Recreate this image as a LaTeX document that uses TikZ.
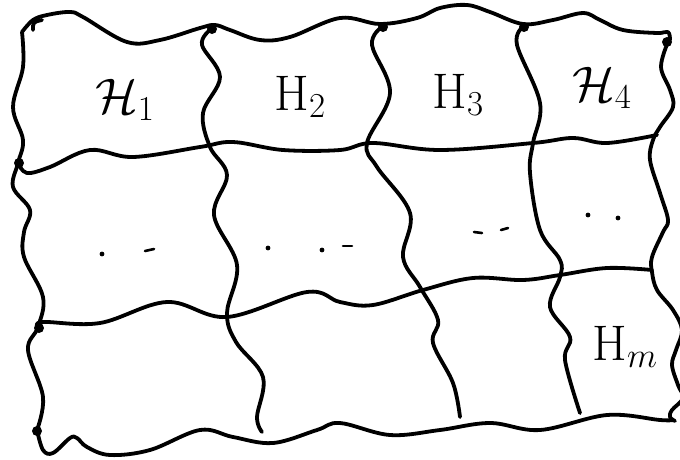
\RequirePackage{fix-cm}
\documentclass[tikz,border=0pt]{standalone}
\usepackage{amsmath,amssymb}
\usepackage{tikz}

\begin{document}
\begin{tikzpicture}[x=1pt,y=-1pt,
  wavy/.style={line width=3.8pt,line cap=round,line join=round},
  blob/.style={fill=black,circle,inner sep=0pt,minimum size=10pt},
  lab/.style={font=\fontsize{50}{56}\selectfont}]
\useasboundingbox (0,0) rectangle (680,459);
\clip (0,0) rectangle (680,459);
% outer border
\draw[wavy] plot[smooth,tension=0.6] coordinates {(22,32) (33,20) (47,15) (70,12) (83,17) (127,42) (160,40) (200,28) (215,25) (230,30) (260,40) (290,37) (340,18) (380,24) (417,18) (440,8) (467,5) (490,12) (523,24) (553,20) (583,13) (600,20) (623,30) (657,33) (668,32) (670,40)};
\draw[wavy] plot[smooth,tension=0.6] coordinates {(668,42) (661,67) (670,90) (673,107) (660,127) (653,140) (650,160) (660,193) (668,220) (663,232) (652,257) (652,272) (657,290) (673,310) (682,330) (676,350) (672,365) (678,385) (683,398) (672,410) (670,417) (675,421)};
\draw[wavy] plot[smooth,tension=0.6] coordinates {(37,430) (43,450) (53,453) (70,438) (77,438) (87,447) (110,455) (150,450) (200,430) (233,437) (273,443) (317,430) (340,423) (390,435) (440,430) (490,423) (540,430) (607,415) (660,420) (673,420)};
\draw[wavy] plot[smooth,tension=0.6] coordinates {(22,32) (23,67) (13,107) (23,140) (18,163) (13,187) (30,210) (24,232) (24,257) (43,297) (38,327) (28,350) (43,397) (37,430)};
\draw[wavy] (33,30) .. controls (33,22) .. (42,20);
% rows
\draw[wavy] plot[smooth,tension=0.6] coordinates {(18,163) (27,173) (50,167) (90,150) (133,157) (200,147) (233,142) (283,150) (340,150) (373,143) (440,150) (533,143) (573,138) (607,143) (657,135)};
\draw[wavy] plot[smooth,tension=0.6] coordinates {(38,327) (43,322) (100,323) (167,302) (227,317) (307,292) (340,302) (373,305) (423,290) (473,278) (523,280) (560,275) (607,268) (652,270)};
% columns
\draw[wavy] plot[smooth,tension=0.6] coordinates {(210,30) (202,45) (220,77) (203,113) (210,147) (227,175) (214,215) (237,265) (227,313) (236,342) (263,377) (257,417) (262,432)};
\draw[wavy] plot[smooth,tension=0.6] coordinates {(382,27) (372,45) (390,93) (367,143) (377,167) (410,213) (403,257) (420,287) (438,320) (433,343) (453,383) (460,417)};
\draw[wavy] plot[smooth,tension=0.6] coordinates {(523,27) (517,45) (540,103) (533,143) (530,173) (540,230) (560,260) (560,277) (550,307) (570,337) (565,360) (580,413)};
% ink blobs at the corners
\foreach \p in {(212,29),(383,27),(524,27),(667,42),(19,163),(39,328),(37,431)}
  \node[blob] at \p {};
% labels
\node[lab] (h1) at (125,100) {$\mathcal{H}_1$};
\node[lab] (h2) at (300,97) {$\mathrm{H}_2$};
\node[lab] (h3) at (458,95) {$\mathrm{H}_3$};
\node[lab] (h4) at (602,88) {$\mathcal{H}_4$};
\node[lab] (hm) at (625,347) {$\mathrm{H}_m$};
% dots in the middle row
\foreach \p in {(102,254),(268,248),(322,250),(588,215),(618,218)}
  \fill \p circle (2.4pt);
\foreach \a/\b in {{(145,251)}/{(154,249)},{(343,246)}/{(352,246)},{(474,232)}/{(482,233)},{(501,230)}/{(508,228)}}
  \draw[line width=2.6pt,line cap=round] \a -- \b;
\end{tikzpicture}
\end{document}
